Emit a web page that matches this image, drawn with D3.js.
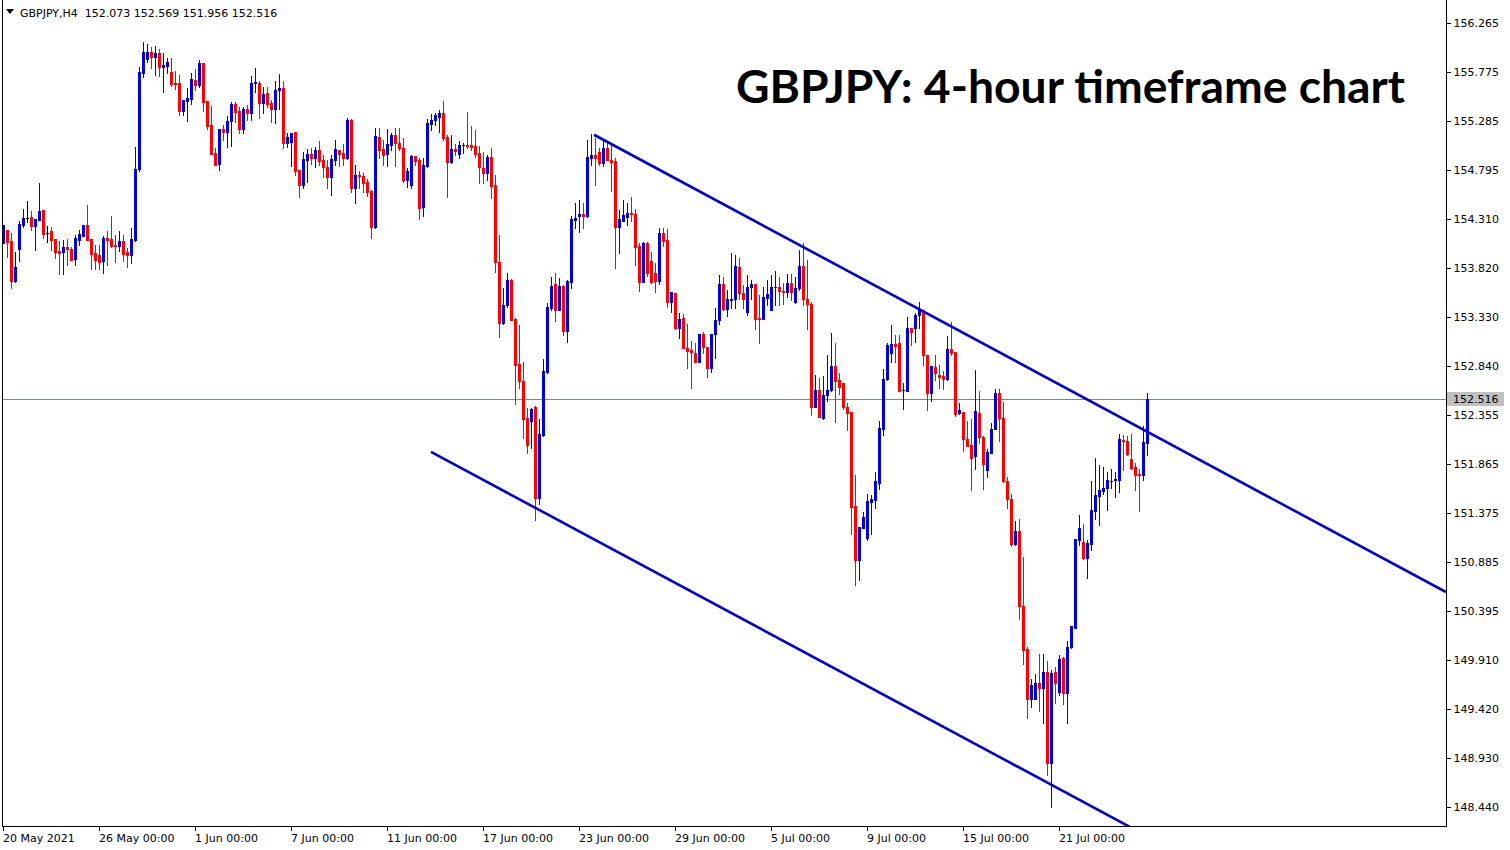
<!DOCTYPE html>
<html><head><meta charset="utf-8">
<script src="https://cdn.jsdelivr.net/npm/d3@7"></script>
<style>html,body{margin:0;padding:0;background:#fff;overflow:hidden}</style>
</head><body>
<svg id="chart" width="1510" height="850"></svg>
<script>
// ---------- DATA ----------
const symbolInfo = "GBPJPY,H4  152.073 152.569 151.956 152.516";
const chartTitle = "GBPJPY: 4-hour timeframe chart";
const lastPrice = 152.516;

const openP = [
154.07,154.20,154.09,153.69,154.01,154.25,154.32,154.33,154.24,154.30,
154.40,154.17,154.19,154.11,153.99,153.98,154.03,154.01,153.91,154.10,
154.14,154.25,154.11,153.97,153.95,153.89,154.12,154.11,154.05,154.04,
154.09,153.98,153.95,154.10,154.81,155.77,155.91,155.98,155.93,155.97,
155.83,155.84,155.78,155.67,155.67,155.39,155.49,155.51,155.70,155.65,
155.87,155.49,155.25,154.97,154.86,155.21,155.18,155.29,155.46,155.39,
155.21,155.41,155.37,155.67,155.67,155.47,155.57,155.47,155.41,155.60,
155.62,155.07,155.08,155.18,154.80,154.65,154.90,154.96,154.92,155.00,
154.90,154.83,154.73,154.90,155.00,154.97,154.92,155.30,154.62,154.75,
154.74,154.68,154.59,154.23,155.13,155.01,154.96,155.05,155.15,155.07,
155.02,154.70,154.65,154.94,154.90,154.43,154.84,155.26,155.30,155.33,
155.37,155.13,154.88,155.01,154.96,155.045,155.05,155.05,155.04,154.97,
154.82,154.77,154.93,154.65,153.88,153.27,153.45,153.70,153.31,152.86,
152.69,152.32,152.29,152.43,151.52,152.15,152.78,153.42,153.66,153.40,
153.64,153.19,153.68,154.30,154.34,154.36,154.34,154.92,154.95,154.98,
154.87,155.02,154.90,154.89,154.23,154.29,154.33,154.37,154.36,154.04,
153.68,154.07,153.89,153.77,153.69,154.17,154.10,153.48,153.57,153.22,
153.32,153.02,153.00,152.97,152.88,153.16,153.03,152.82,153.16,153.30,
153.66,153.41,153.505,153.51,153.83,153.57,153.38,153.63,153.66,153.32,
153.31,153.52,153.40,153.63,153.63,153.59,153.58,153.67,153.48,153.62,
153.84,153.51,153.46,152.43,152.60,152.32,152.55,152.60,152.84,152.70,
152.67,152.43,152.38,151.44,150.91,151.22,151.12,151.48,151.50,151.67,
152.21,152.71,152.97,153.06,153.07,152.60,152.59,153.22,153.22,153.35,
153.40,152.95,152.57,152.83,152.75,152.74,152.71,153.01,152.98,152.37,
152.38,152.11,152.05,151.94,152.37,152.13,151.80,151.97,152.21,152.57,
152.32,151.69,151.51,151.06,151.19,150.45,150.02,149.52,149.52,149.68,
149.63,149.79,148.88,149.79,149.59,149.93,149.58,150.04,150.23,151.10,
151.08,150.93,151.06,151.39,151.54,151.59,151.62,151.69,151.70,151.70,
152.10,152.09,151.91,151.83,151.76,151.75,152.073];

const highP = [
154.25,154.20,154.17,153.98,154.29,154.41,154.49,154.39,154.31,154.67,
154.40,154.24,154.23,154.11,154.09,154.10,154.11,154.03,154.15,154.20,
154.25,154.45,154.11,154.05,154.05,154.14,154.19,154.34,154.15,154.19,
154.15,154.02,154.22,155.03,155.83,156.08,156.06,156.03,156.04,156.01,
155.97,155.92,155.92,155.79,155.75,155.50,155.62,155.77,155.81,155.90,
155.87,155.49,155.44,155.02,155.21,155.25,155.34,155.48,155.48,155.43,
155.43,155.45,155.74,155.82,155.69,155.63,155.63,155.50,155.69,155.76,
155.69,155.17,155.17,155.18,154.80,154.98,155.01,155.02,155.03,155.09,
154.95,154.90,154.95,155.10,155.00,155.06,155.32,155.31,154.85,154.79,
154.77,154.71,154.60,155.22,155.22,155.10,155.21,155.17,155.22,155.22,
155.12,154.82,154.95,154.94,154.92,154.92,155.31,155.36,155.37,155.40,
155.49,155.15,155.15,155.06,155.09,155.07,155.38,155.24,155.20,155.04,
154.98,154.95,155.02,154.75,154.15,153.62,153.77,153.71,153.32,153.25,
152.88,152.42,152.42,152.44,152.31,152.91,153.47,153.73,153.77,153.72,
153.65,153.70,154.34,154.47,154.50,154.47,155.10,155.16,155.12,155.02,
155.11,155.07,155.05,154.92,154.40,154.50,154.47,154.53,154.41,154.07,
154.08,154.08,153.98,153.87,154.22,154.22,154.21,153.58,153.57,153.37,
153.36,153.26,153.09,153.07,153.16,153.18,153.03,153.16,153.42,153.75,
153.73,153.60,153.97,153.95,153.92,153.65,153.75,153.70,153.66,153.55,
153.63,153.70,153.75,153.79,153.73,153.67,153.76,153.76,153.73,154.00,
154.07,153.90,153.48,152.75,152.72,152.74,152.95,153.17,153.07,152.77,
152.67,152.47,152.38,151.75,151.23,151.38,151.56,151.55,151.78,152.29,
152.81,153.07,153.25,153.15,153.15,152.67,153.33,153.22,153.37,153.48,
153.40,152.95,152.84,152.95,152.85,152.79,153.14,153.28,152.98,152.47,
152.38,152.29,152.31,152.80,152.59,152.14,152.01,152.27,152.61,152.61,
152.48,151.73,151.56,151.29,151.31,150.94,150.04,149.72,149.77,149.97,
149.97,149.90,149.81,149.84,149.96,149.94,150.10,150.25,151.11,151.35,
151.26,151.10,151.69,151.92,151.85,151.83,151.78,151.81,151.78,152.16,
152.15,152.14,152.16,151.87,151.81,152.24,152.569];

const lowP = [
154.07,153.93,153.62,153.68,153.89,154.23,154.28,154.20,154.00,154.30,
154.12,154.08,154.00,153.92,153.76,153.76,153.85,153.90,153.85,154.05,
154.14,154.10,153.81,153.81,153.81,153.77,153.85,154.03,153.88,153.99,
153.89,153.83,153.87,154.09,154.79,155.73,155.88,155.82,155.75,155.74,
155.58,155.77,155.64,155.61,155.35,155.35,155.29,155.46,155.60,155.63,
155.39,155.21,154.96,154.85,154.80,155.10,155.03,155.04,155.28,155.17,
155.17,155.30,155.30,155.58,155.32,155.37,155.43,155.28,155.27,155.41,
155.02,155.03,154.84,154.75,154.53,154.62,154.68,154.86,154.83,154.85,
154.73,154.62,154.55,154.85,154.84,154.85,154.91,154.58,154.47,154.62,
154.58,154.54,154.12,154.22,154.92,154.85,154.84,155.00,154.84,155.00,
154.68,154.63,154.62,154.85,154.31,154.34,154.83,155.20,155.25,155.18,
155.10,154.53,154.87,154.95,154.92,154.97,155.02,155.00,154.93,154.67,
154.67,154.70,154.52,153.78,153.13,153.26,153.43,153.30,152.46,152.62,
152.12,151.97,152.02,151.30,151.46,152.14,152.77,153.40,153.29,153.40,
153.15,153.08,153.62,154.22,154.18,154.22,154.33,154.85,154.65,154.85,
154.84,154.90,154.59,153.82,153.97,154.29,154.25,154.29,153.85,153.59,
153.68,153.74,153.67,153.58,153.66,154.04,153.43,153.38,153.21,153.12,
153.02,152.82,152.62,152.88,152.88,152.97,152.73,152.78,152.92,153.26,
153.40,153.34,153.42,153.42,153.51,153.42,153.35,153.51,153.21,153.07,
153.31,153.45,153.40,153.45,153.45,153.46,153.53,153.50,153.47,153.60,
153.45,153.21,152.35,152.43,152.33,152.31,152.49,152.59,152.28,152.56,
152.41,152.20,151.16,150.66,150.71,151.22,151.10,151.16,151.42,151.61,
152.15,152.70,152.88,152.88,152.59,152.41,152.59,153.05,153.08,153.22,
152.85,152.40,152.49,152.70,152.62,152.61,152.70,152.95,152.34,152.36,
151.99,152.04,151.60,151.81,152.07,151.61,151.73,151.97,152.21,152.09,
151.68,151.42,151.04,151.05,150.32,149.87,149.33,149.44,149.52,149.40,
149.28,148.76,148.44,149.48,149.56,149.47,149.28,150.03,150.23,151.05,
150.92,150.73,151.00,151.31,151.25,151.56,151.40,151.62,151.53,151.58,
151.80,151.95,151.81,151.60,151.39,151.70,151.956];

const closeP = [
154.25,154.08,153.69,153.83,154.26,154.32,154.32,154.24,154.31,154.39,
154.16,154.17,154.10,153.98,153.97,154.03,154.01,153.90,154.12,154.16,
154.25,154.10,153.96,153.90,153.88,154.12,154.10,154.04,154.04,154.09,
153.96,153.95,154.11,154.81,155.78,155.98,155.98,155.93,155.97,155.83,
155.85,155.88,155.66,155.66,155.39,155.50,155.52,155.71,155.65,155.87,
155.48,155.24,154.96,154.85,155.21,155.18,155.29,155.46,155.38,155.21,
155.41,155.37,155.67,155.68,155.47,155.56,155.46,155.41,155.60,155.62,
155.07,155.13,155.17,154.79,154.65,154.91,154.96,154.92,155.00,154.89,
154.83,154.73,154.91,155.01,154.96,154.92,155.30,154.62,154.75,154.74,
154.67,154.58,154.23,155.14,155.00,154.95,155.06,155.15,155.07,155.02,
154.70,154.79,154.94,154.89,154.42,154.85,155.27,155.30,155.35,155.37,
155.12,154.88,155.01,154.99,155.05,155.05,155.04,155.03,154.96,154.83,
154.77,154.93,154.64,153.88,153.27,153.45,153.70,153.30,152.85,152.69,
152.31,152.05,152.41,151.52,152.16,152.79,153.43,153.64,153.40,153.64,
153.19,153.69,154.31,154.32,154.36,154.34,154.93,154.95,154.92,154.87,
155.02,154.90,154.88,154.23,154.31,154.35,154.37,154.36,154.03,153.68,
154.07,153.77,153.68,153.69,154.17,154.09,153.48,153.58,153.22,153.31,
153.02,152.99,152.98,152.88,153.16,153.03,152.82,153.16,153.30,153.66,
153.41,153.51,153.51,153.84,153.57,153.51,153.63,153.66,153.31,153.31,
153.53,153.56,153.63,153.635,153.59,153.58,153.67,153.58,153.62,153.84,
153.51,153.46,152.43,152.60,152.33,152.55,152.60,152.84,152.69,152.63,
152.43,152.37,151.43,150.91,151.23,151.33,151.49,151.51,151.69,152.22,
152.71,153.05,153.06,153.04,152.59,152.605,153.22,153.18,153.35,153.40,
152.95,152.57,152.84,152.77,152.73,152.71,153.01,152.97,152.36,152.40,
152.11,152.04,151.92,152.39,152.13,151.86,151.98,152.21,152.57,152.32,
151.69,151.51,151.06,151.19,150.45,150.01,149.52,149.66,149.68,149.63,
149.79,148.88,149.78,149.68,149.92,149.58,150.04,150.25,151.11,151.22,
150.93,151.07,151.40,151.55,151.60,151.62,151.70,151.695,151.71,152.11,
152.09,151.96,151.82,151.75,151.75,152.08,152.516];

const priceTicks = [156.265,155.775,155.285,154.795,154.310,153.820,153.330,152.840,
  152.355,151.865,151.375,150.885,150.395,149.910,149.420,148.930,148.440];
const timeLabels = ["20 May 2021","26 May 00:00","1 Jun 00:00","7 Jun 00:00","11 Jun 00:00",
  "17 Jun 00:00","23 Jun 00:00","29 Jun 00:00","5 Jul 00:00","9 Jul 00:00","15 Jul 00:00","21 Jul 00:00"];
const timeLabelBars = [0,24,48,72,96,120,144,168,192,216,240,264];

// channel lines: [bar index, price]
const upperChannel = [[147.75,155.15],[360.75,150.585]];
const lowerChannel = [[107,151.985],[290,148.063]];

// ---------- DRAW ----------
const W = 1510, H = 850;
const plot = {left:2, right:1446, top:2, bottom:826};
const svg = d3.select("#chart");
const blue = "#0000dc", red = "#ff0000";

const x = d3.scaleLinear().domain([0, openP.length-1]).range([3, 3 + 4*(openP.length-1)]);
const y = d3.scaleLinear().domain([148.25, 156.475]).range([plot.bottom, plot.top]);

svg.append("defs").append("clipPath").attr("id","plotclip")
  .append("rect").attr("x",plot.left+1).attr("y",plot.top).attr("width",plot.right-plot.left-1).attr("height",plot.bottom-plot.top);

const g = svg.append("g").attr("clip-path","url(#plotclip)").attr("shape-rendering","crispEdges");

// last price line
g.append("line").attr("x1",plot.left).attr("x2",plot.right)
  .attr("y1",Math.round(y(lastPrice))+0.5).attr("y2",Math.round(y(lastPrice))+0.5)
  .attr("stroke","#778899").attr("stroke-width",1);

const bars = d3.range(openP.length).map(i => ({i, o:openP[i], h:highP[i], l:lowP[i], c:closeP[i]}));
const col = d => d.c > d.o ? blue : (d.c < d.o ? red : "#000");

const cg = g.selectAll("g.c").data(bars).join("g").attr("class","c");
cg.append("rect")
  .attr("x", d => Math.round(x(d.i)))
  .attr("y", d => Math.round(y(d.h)))
  .attr("width", 1)
  .attr("height", d => Math.max(1, Math.round(y(d.l)) - Math.round(y(d.h)) + 1))
  .attr("fill", col);
cg.append("rect")
  .attr("x", d => Math.round(x(d.i)) - 1)
  .attr("y", d => Math.round(y(Math.max(d.o,d.c))))
  .attr("width", 3)
  .attr("height", d => Math.max(1, Math.round(y(Math.min(d.o,d.c))) - Math.round(y(Math.max(d.o,d.c))) + 1))
  .attr("fill", col);

// channel lines
const lineGen = d3.line().x(d => x(d[0])).y(d => y(d[1]));
const lg = svg.append("g").attr("clip-path","url(#plotclip)");
[upperChannel, lowerChannel].forEach(pts => {
  lg.append("path").attr("d", lineGen(pts)).attr("fill","none")
    .attr("stroke","#0000cd").attr("stroke-width",2.6);
});

// frame
const fr = svg.append("g").attr("shape-rendering","crispEdges");
fr.append("line").attr("x1",plot.left+0.5).attr("x2",plot.left+0.5).attr("y1",0).attr("y2",plot.bottom+0.5).attr("stroke","#000");
fr.append("line").attr("x1",plot.right+0.5).attr("x2",plot.right+0.5).attr("y1",0).attr("y2",plot.bottom+0.5).attr("stroke","#000");
fr.append("line").attr("x1",plot.left).attr("x2",plot.right+1).attr("y1",plot.bottom+0.5).attr("y2",plot.bottom+0.5).attr("stroke","#000");

// right price axis
const yAxis = d3.axisRight(y).tickValues(priceTicks).tickFormat(d3.format(".3f")).tickSize(4).tickPadding(3);
const ya = svg.append("g").attr("transform",`translate(${plot.right+0.5},0)`).call(yAxis);
ya.select(".domain").remove();
ya.selectAll("text").attr("font-family","DejaVu Sans").attr("font-size",11).attr("fill","#000");
ya.selectAll("line").attr("stroke","#000").attr("shape-rendering","crispEdges");

// last price label
const lpY = Math.round(y(lastPrice));
svg.append("rect").attr("x",plot.right+1).attr("y",lpY-7).attr("width",57).attr("height",14).attr("fill","#c0c0c0");
svg.append("text").attr("x",plot.right+7).attr("y",lpY+4).attr("font-family","DejaVu Sans").attr("font-size",11)
  .attr("fill","#000").text(d3.format(".3f")(lastPrice));

// bottom time axis
const ta = svg.append("g").attr("shape-rendering","crispEdges");
timeLabelBars.forEach((b,k) => {
  const tx = Math.round(x(b));
  ta.append("line").attr("x1",tx+0.5).attr("x2",tx+0.5).attr("y1",plot.bottom).attr("y2",plot.bottom+5).attr("stroke","#000");
  ta.append("text").attr("x",tx).attr("y",842).attr("font-family","DejaVu Sans").attr("font-size",11)
    .attr("fill","#000").text(timeLabels[k]);
});

// header
svg.append("path").attr("d","M6,9 L14,9 L10,14 Z").attr("fill","#000");
svg.append("text").attr("x",20).attr("y",17).attr("font-family","DejaVu Sans").attr("font-size",11)
  .attr("fill","#000").attr("xml:space","preserve").style("white-space","pre").text(symbolInfo);

// title
svg.append("text").attr("x",736).attr("y",103).attr("font-family","Lato, 'Open Sans', sans-serif")
  .attr("font-weight","bold").attr("font-size",46).attr("fill","#000")
  .attr("textLength",669).attr("lengthAdjust","spacingAndGlyphs").text(chartTitle);
</script>
</body></html>
